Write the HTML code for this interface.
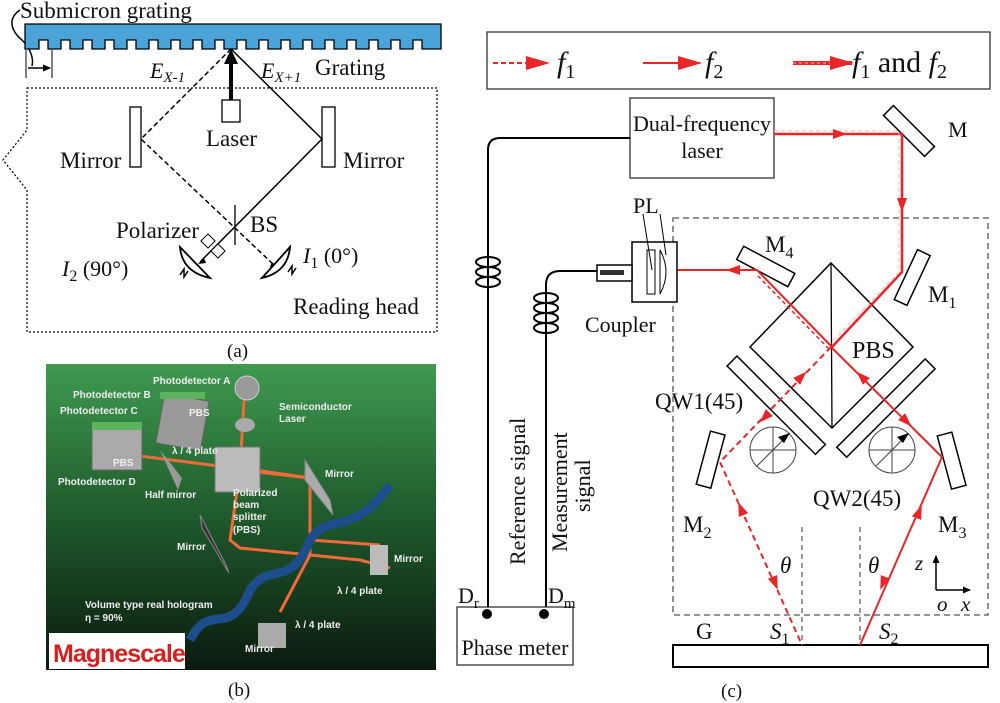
<!DOCTYPE html>
<html><head><meta charset="utf-8"><style>
html,body{margin:0;padding:0;background:#fff}
svg{display:block}
text{font-family:"Liberation Serif",serif;fill:#111}
.s{font-family:"Liberation Sans",sans-serif;font-weight:bold;fill:#eee;font-size:10px}
</style></head><body>
<svg width="1000" height="703" viewBox="0 0 1000 703" xmlns="http://www.w3.org/2000/svg">
<defs>
<marker id="ar" markerWidth="14" markerHeight="10" refX="12" refY="5" orient="auto" markerUnits="userSpaceOnUse"><path d="M0,0 L14,5 L0,10z" fill="#e8262a"/></marker>
<marker id="arL" markerWidth="24" markerHeight="14" refX="22" refY="7" orient="auto" markerUnits="userSpaceOnUse"><path d="M0,0 L24,7 L0,14z" fill="#e8262a"/></marker>
<marker id="ak" markerWidth="8" markerHeight="7" refX="7" refY="3.5" orient="auto" markerUnits="userSpaceOnUse"><path d="M0,0 L8,3.5 L0,7z" fill="#000"/></marker>
<linearGradient id="gb" x1="0" y1="0" x2="0" y2="1"><stop offset="0" stop-color="#3f9a50"/><stop offset="0.5" stop-color="#1f5a2c"/><stop offset="1" stop-color="#0b1a0f"/></linearGradient>
</defs>

<!-- ===== Panel (a) ===== -->
<text x="20" y="18" font-size="23">Submicron grating</text>
<path d="M20,10 C8,18 10,30 22,40 C30,48 34,58 32,66" fill="none" stroke="#000" stroke-width="1.5"/>
<path d="M25,24 H441 V49 H422 V40 H413 V49 H400 V40 H391 V49 H378 V40 H369 V49 H356 V40 H347 V49 H334 V40 H325 V49 H312 V40 H303 V49 H290 V40 H281 V49 H268 V40 H259 V49 H246 V40 H237 V49 H224 V40 H215 V49 H202 V40 H193 V49 H180 V40 H171 V49 H158 V40 H149 V49 H136 V40 H127 V49 H114 V40 H105 V49 H92 V40 H83 V49 H70 V40 H61 V49 H48 V40 H39 V49 H25 Z" fill="#4ca3d8" stroke="#000" stroke-width="1.3"/>
<line x1="26" y1="50" x2="26" y2="78" stroke="#000"/>
<line x1="52" y1="50" x2="52" y2="78" stroke="#000"/>
<line x1="28" y1="68" x2="50" y2="68" stroke="#000" stroke-width="1.5" marker-end="url(#ak)"/>
<path d="M27,88 H437 V332 H27 V190 L3,160 L27,130 Z" fill="none" stroke="#000" stroke-width="1.2" stroke-dasharray="2,2"/>
<text x="150" y="78" font-size="22" font-style="italic">E<tspan font-size="15" dy="4">X-1</tspan></text>
<text x="261" y="78" font-size="22" font-style="italic">E<tspan font-size="15" dy="4">X+1</tspan></text>
<text x="315" y="75" font-size="23">Grating</text>
<rect x="222" y="100" width="18" height="22" fill="#fff" stroke="#000" stroke-width="1.3"/>
<line x1="231" y1="100" x2="231" y2="62" stroke="#000" stroke-width="4"/>
<path d="M224,64 L231,49 L238,64z"/>
<text x="206" y="146" font-size="23">Laser</text>
<rect x="130" y="107" width="11" height="60" fill="#fff" stroke="#000" stroke-width="1.3"/>
<rect x="322" y="107" width="13" height="60" fill="#fff" stroke="#000" stroke-width="1.3"/>
<text x="60" y="168" font-size="23">Mirror</text>
<text x="343" y="168" font-size="23">Mirror</text>
<path d="M231,49 L141,139 L235,228 L275,266" fill="none" stroke="#000" stroke-width="1.5" stroke-dasharray="5,3"/>
<path d="M231,49 L322,139 L200,262" fill="none" stroke="#000" stroke-width="1.5"/>
<line x1="235" y1="205" x2="235" y2="245" stroke="#000" stroke-width="1.3"/>
<path d="M272,262 l6,6 l-8,-1z" fill="#000"/><path d="M204,258 l-6,6 l8,-1z" fill="#000"/>
<text x="250" y="232" font-size="23">BS</text>
<text x="116" y="238" font-size="23">Polarizer</text>
<rect x="203" y="236" width="10" height="10" fill="#fff" stroke="#000" transform="rotate(45 208 241)"/>
<rect x="213" y="246" width="10" height="10" fill="#fff" stroke="#000" transform="rotate(45 218 251)"/>
<path d="M180,247 Q182,272 210,278 Z" fill="#fff" stroke="#000" stroke-width="1.8"/>
<path d="M180,275 l4,-6 l0,8 l4,-6" fill="none" stroke="#000" stroke-width="1.5"/>
<path d="M290,247 Q288,272 262,278 Z" fill="#fff" stroke="#000" stroke-width="1.8"/>
<path d="M288,272 l4,-6 l0,8 l4,-6" fill="none" stroke="#000" stroke-width="1.5"/>
<text x="62" y="276" font-size="22"><tspan font-style="italic">I</tspan><tspan font-size="16" dy="5">2</tspan><tspan dy="-5"> (90°)</tspan></text>
<text x="303" y="263" font-size="22"><tspan font-style="italic">I</tspan><tspan font-size="16" dy="5">1</tspan><tspan dy="-5"> (0°)</tspan></text>
<text x="293" y="314" font-size="23">Reading head</text>
<text x="227" y="357" font-size="19">(a)</text>

<!-- ===== Panel (b) ===== -->
<rect x="46" y="364" width="390" height="306" fill="url(#gb)"/>
<g stroke="#f06a3a" stroke-width="3" fill="none">
<path d="M140,456 L250,470 L310,478"/>
<path d="M245,382 L240,470 L310,478"/>
<path d="M240,470 L230,540 L240,548 L360,560 L390,568"/>
<path d="M255,470 L310,478 L310,555 L280,612"/>
<path d="M310,478 L310,540 L380,545"/>
</g>
<path d="M190,640 C210,600 230,640 250,590 C270,560 290,590 310,540 C330,510 350,540 390,485" fill="none" stroke="#1d4d8a" stroke-width="9"/>
<rect x="92" y="425" width="50" height="45" fill="#aaa" stroke="#666"/>
<rect x="92" y="422" width="50" height="8" fill="#5bb35b"/>
<rect x="160" y="397" width="45" height="50" fill="#999" stroke="#666" transform="rotate(10 182 422)"/>
<rect x="160" y="392" width="45" height="7" fill="#5bb35b"/>
<rect x="215" y="447" width="45" height="45" fill="#bbb" stroke="#777"/>
<circle cx="247" cy="388" r="12" fill="#999" stroke="#ccc"/>
<ellipse cx="245" cy="425" rx="10" ry="7" fill="#aaa"/>
<path d="M305,460 L330,500 L333,515 L305,480Z" fill="#aaa" stroke="#888"/>
<path d="M200,515 L226,565 L229,573 L202,528Z" fill="#333" stroke="#888"/>
<path d="M160,450 L178,490 L182,478Z" fill="#999"/>
<rect x="370" y="545" width="18" height="30" fill="#bbb"/>
<rect x="258" y="623" width="28" height="25" fill="#aaa"/>
<text class="s" x="153" y="384">Photodetector A</text>
<text class="s" x="73" y="398">Photodetector B</text>
<text class="s" x="60" y="414">Photodetector C</text>
<text class="s" x="58" y="485">Photodetector D</text>
<text class="s" x="189" y="416">PBS</text>
<text class="s" x="113" y="466">PBS</text>
<text class="s" x="172" y="454">λ / 4 plate</text>
<text class="s" x="279" y="410">Semiconductor</text>
<text class="s" x="279" y="422">Laser</text>
<text class="s" x="325" y="477">Mirror</text>
<text class="s" x="145" y="498">Half mirror</text>
<text class="s" x="233" y="496">Polarized</text>
<text class="s" x="233" y="508">beam</text>
<text class="s" x="233" y="520">splitter</text>
<text class="s" x="233" y="533">(PBS)</text>
<text class="s" x="177" y="550">Mirror</text>
<text class="s" x="394" y="562">Mirror</text>
<text class="s" x="337" y="594">λ / 4 plate</text>
<text class="s" x="85" y="608">Volume type real hologram</text>
<text class="s" x="85" y="621">η = 90%</text>
<text class="s" x="295" y="628">λ / 4 plate</text>
<text class="s" x="245" y="652">Mirror</text>
<rect x="49" y="633" width="136" height="36" fill="#fff"/>
<text x="53" y="662" style="font-family:'Liberation Sans',sans-serif;font-weight:bold;font-size:25px;fill:#d81e1e;letter-spacing:-1px">Magnescale</text>
<text x="228" y="696" font-size="19">(b)</text>

<!-- ===== Panel (c) ===== -->
<rect x="487" y="32" width="503" height="57" fill="#fff" stroke="#333" stroke-width="1.3"/>
<line x1="493" y1="63" x2="548" y2="63" stroke="#e8262a" stroke-width="2" stroke-dasharray="5,3" marker-end="url(#arL)"/>
<text x="557" y="72" font-size="30" font-style="italic">f<tspan font-style="normal" font-size="20" dy="6">1</tspan></text>
<line x1="643" y1="63" x2="700" y2="63" stroke="#e8262a" stroke-width="2" marker-end="url(#arL)"/>
<text x="705" y="72" font-size="30" font-style="italic">f<tspan font-style="normal" font-size="20" dy="6">2</tspan></text>
<line x1="793" y1="63" x2="852" y2="63" stroke="#e8262a" stroke-width="4" marker-end="url(#arL)"/>
<line x1="793" y1="63" x2="830" y2="63" stroke="#f8b0b0" stroke-width="1" stroke-dasharray="3,3"/>
<text x="852" y="72" font-size="30"><tspan font-style="italic">f</tspan><tspan font-size="20" dy="6">1</tspan><tspan dy="-6"> and </tspan><tspan font-style="italic">f</tspan><tspan font-size="20" dy="6">2</tspan></text>

<rect x="630" y="98" width="144" height="80" fill="#fff" stroke="#333" stroke-width="1.3"/>
<text x="702" y="131" font-size="22" text-anchor="middle">Dual-frequency</text>
<text x="702" y="158" font-size="22" text-anchor="middle">laser</text>
<rect x="880" y="124" width="58" height="14" fill="#fff" stroke="#000" stroke-width="1.5" transform="rotate(45 909 131)"/>
<text x="948" y="137" font-size="22">M</text>

<!-- dashed enclosure -->
<path d="M673,218 H988 V615 H673 Z" fill="none" stroke="#555" stroke-width="1.3" stroke-dasharray="6,4"/>
<rect x="673" y="645" width="315" height="22" fill="#fff" stroke="#000" stroke-width="2"/>
<line x1="802" y1="527" x2="802" y2="645" stroke="#555" stroke-width="1.2" stroke-dasharray="5,4"/>
<line x1="860" y1="527" x2="860" y2="645" stroke="#555" stroke-width="1.2" stroke-dasharray="5,4"/>

<!-- PBS -->
<path d="M831,263 L913,347 L832,428 L750,347 Z" fill="none" stroke="#000" stroke-width="1.5"/>
<line x1="831" y1="263" x2="832" y2="428" stroke="#000" stroke-width="1.3"/>
<text x="852" y="358" font-size="24">PBS</text>
<rect x="713" y="400" width="125" height="14" fill="none" stroke="#000" stroke-width="1.5" transform="rotate(45 778 407)"/>
<rect x="823" y="400" width="125" height="14" fill="none" stroke="#000" stroke-width="1.5" transform="rotate(-45 887 407)"/>
<rect x="885" y="271" width="55" height="14" fill="#fff" stroke="#000" stroke-width="1.5" transform="rotate(-65 912 278)"/>
<text x="928" y="302" font-size="23">M<tspan font-size="16" dy="6">1</tspan></text>
<rect x="737" y="259" width="58" height="15" fill="#fff" stroke="#000" stroke-width="1.5" transform="rotate(28 766 266)"/>
<text x="765" y="252" font-size="23">M<tspan font-size="16" dy="6">4</tspan></text>
<rect x="683" y="453" width="55" height="15" fill="#fff" stroke="#000" stroke-width="1.5" transform="rotate(-75 710 460)"/>
<text x="683" y="532" font-size="23">M<tspan font-size="16" dy="6">2</tspan></text>
<rect x="925" y="453" width="55" height="15" fill="#fff" stroke="#000" stroke-width="1.5" transform="rotate(75 952 460)"/>
<text x="938" y="532" font-size="23">M<tspan font-size="16" dy="6">3</tspan></text>

<!-- waveplate circles -->
<g stroke="#444" stroke-width="1" fill="none">
<circle cx="773" cy="450" r="23"/><line x1="750" y1="450" x2="796" y2="450"/><line x1="773" y1="427" x2="773" y2="473"/><line x1="757" y1="466" x2="789" y2="434"/>
<circle cx="892" cy="450" r="23"/><line x1="869" y1="450" x2="915" y2="450"/><line x1="892" y1="427" x2="892" y2="473"/><line x1="876" y1="466" x2="908" y2="434"/>
</g>
<path d="M790,433 l-12,4 l6,6z"/><path d="M909,433 l-12,4 l6,6z"/>
<text x="655" y="409" font-size="23">QW1(45)</text>
<text x="813" y="506" font-size="23">QW2(45)</text>

<!-- beams -->
<g fill="none">
<path d="M774,134 H902 V272 L832,347" stroke="#e8262a" stroke-width="2.5"/>
<path d="M774,131 H899 V272 L829,345" stroke="#f9b4b4" stroke-width="1" stroke-dasharray="4,3"/>
<path d="M832,347 L757,270 H675" stroke="#e8262a" stroke-width="2"/>
<path d="M829,349 L756,274" stroke="#e8262a" stroke-width="1.5" stroke-dasharray="4,3"/>
<path d="M831,347 L720,462 L802,645" stroke="#e8262a" stroke-width="2" stroke-dasharray="6,4"/>
<path d="M831,347 L942,457 L860,645" stroke="#e8262a" stroke-width="2"/>
</g>
<line x1="836" y1="134" x2="845" y2="134" stroke="#e8262a" marker-end="url(#ar)"/>
<line x1="902" y1="200" x2="902" y2="210" stroke="#e8262a" marker-end="url(#ar)"/>
<line x1="738" y1="270" x2="728" y2="270" stroke="#e8262a" marker-end="url(#ar)"/>
<line x1="798" y1="380" x2="805" y2="373" stroke="#e8262a" marker-end="url(#ar)"/>
<line x1="768" y1="414" x2="761" y2="421" stroke="#e8262a" marker-end="url(#ar)"/>
<line x1="865" y1="380" x2="858" y2="373" stroke="#e8262a" marker-end="url(#ar)"/>
<line x1="903" y1="418" x2="910" y2="425" stroke="#e8262a" marker-end="url(#ar)"/>
<line x1="743" y1="514" x2="739" y2="504" stroke="#e8262a" marker-end="url(#ar)"/>
<line x1="773" y1="578" x2="777" y2="588" stroke="#e8262a" marker-end="url(#ar)"/>
<line x1="917" y1="517" x2="921" y2="507" stroke="#e8262a" marker-end="url(#ar)"/>
<line x1="885" y1="578" x2="881" y2="588" stroke="#e8262a" marker-end="url(#ar)"/>

<text x="780" y="573" font-size="23" font-style="italic">θ</text>
<text x="868" y="573" font-size="23" font-style="italic">θ</text>
<text x="696" y="639" font-size="23">G</text>
<text x="770" y="639" font-size="23" font-style="italic">S<tspan font-style="normal" font-size="16" dy="5">1</tspan></text>
<text x="879" y="639" font-size="23" font-style="italic">S<tspan font-style="normal" font-size="16" dy="5">2</tspan></text>
<line x1="936" y1="590" x2="936" y2="556" stroke="#000" stroke-width="1.5" marker-end="url(#ak)"/>
<line x1="936" y1="590" x2="970" y2="590" stroke="#000" stroke-width="1.5" marker-end="url(#ak)"/>
<text x="915" y="570" font-size="21" font-style="italic">z</text>
<text x="961" y="611" font-size="21" font-style="italic">x</text>
<text x="937" y="611" font-size="21" font-style="italic">o</text>

<!-- coupler -->
<rect x="632" y="242" width="45" height="60" fill="#fff" stroke="#000" stroke-width="1.5"/>
<rect x="647" y="250" width="8" height="44" fill="none" stroke="#000"/>
<path d="M660,250 Q672,272 660,294 Z" fill="none" stroke="#000"/>
<rect x="597" y="265" width="35" height="16" fill="#fff" stroke="#000" stroke-width="1.5"/>
<rect x="600" y="270" width="24" height="5" fill="#333"/>
<line x1="643" y1="214" x2="652" y2="270" stroke="#000"/>
<line x1="660" y1="214" x2="666" y2="255" stroke="#000"/>
<text x="633" y="213" font-size="22">PL</text>
<text x="585" y="332" font-size="22">Coupler</text>

<!-- wires -->
<path d="M630,138 H500 Q488,138 488,150 V608" fill="none" stroke="#000" stroke-width="2"/>
<g fill="none" stroke="#000" stroke-width="2">
<ellipse cx="488" cy="262" rx="12" ry="5"/><ellipse cx="488" cy="272" rx="12" ry="5"/><ellipse cx="488" cy="282" rx="12" ry="5"/>
<path d="M597,271 H560 Q546,271 546,285 V608"/>
<ellipse cx="546" cy="298" rx="12" ry="5"/><ellipse cx="546" cy="308" rx="12" ry="5"/><ellipse cx="546" cy="318" rx="12" ry="5"/><ellipse cx="546" cy="328" rx="12" ry="5"/>
</g>
<rect x="457" y="607" width="116" height="58" fill="#fff" stroke="#333" stroke-width="1.3"/>
<circle cx="487" cy="614" r="5"/><circle cx="544" cy="614" r="5"/>
<text x="515" y="655" font-size="22" text-anchor="middle">Phase meter</text>
<text x="458" y="603" font-size="22">D<tspan font-size="15" dy="5">r</tspan></text>
<text x="548" y="603" font-size="22">D<tspan font-size="15" dy="5">m</tspan></text>
<text transform="translate(525,565) rotate(-90)" font-size="22">Reference signal</text>
<text transform="translate(567,552) rotate(-90)" font-size="22">Measurement</text>
<text transform="translate(590,512) rotate(-90)" font-size="22">signal</text>
<text x="721" y="697" font-size="19">(c)</text>
</svg>
</body></html>
